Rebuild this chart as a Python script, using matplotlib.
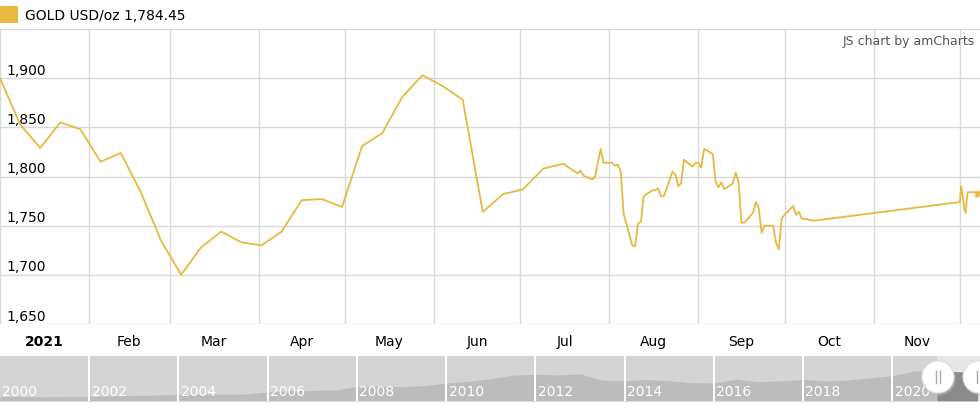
"""Gold price chart (amCharts stock style) recreated with matplotlib."""

import numpy as np
import pandas as pd
import matplotlib
matplotlib.use("Agg")
import matplotlib.pyplot as plt
from matplotlib.patches import Rectangle, Circle
from matplotlib.transforms import IdentityTransform

# ---- main series -----------------------------------------------------------
dates = [
    '2021-01-01', '2021-01-08', '2021-01-15', '2021-01-22', '2021-01-29',
    '2021-02-05', '2021-02-12', '2021-02-19', '2021-02-26', '2021-03-05',
    '2021-03-12', '2021-03-19', '2021-03-26', '2021-04-02', '2021-04-09',
    '2021-04-16', '2021-04-23', '2021-04-30', '2021-05-07', '2021-05-14',
    '2021-05-21', '2021-05-28', '2021-06-04', '2021-06-11', '2021-06-18',
    '2021-06-25', '2021-07-02', '2021-07-09', '2021-07-16', '2021-07-21',
    '2021-07-22', '2021-07-23', '2021-07-26', '2021-07-27', '2021-07-29',
    '2021-07-30', '2021-08-02', '2021-08-03', '2021-08-04', '2021-08-05',
    '2021-08-06', '2021-08-09', '2021-08-10', '2021-08-11', '2021-08-12',
    '2021-08-13', '2021-08-16', '2021-08-17', '2021-08-18', '2021-08-19',
    '2021-08-20', '2021-08-23', '2021-08-24', '2021-08-25', '2021-08-26',
    '2021-08-27', '2021-08-30', '2021-08-31', '2021-09-01', '2021-09-02',
    '2021-09-03', '2021-09-06', '2021-09-07', '2021-09-08', '2021-09-09',
    '2021-09-10', '2021-09-13', '2021-09-14', '2021-09-15', '2021-09-16',
    '2021-09-17', '2021-09-20', '2021-09-21', '2021-09-22', '2021-09-23',
    '2021-09-24', '2021-09-27', '2021-09-28', '2021-09-29', '2021-09-30',
    '2021-10-01', '2021-10-04', '2021-10-05', '2021-10-06', '2021-10-07',
    '2021-10-08', '2021-10-11',
    '2021-12-01 00:00', '2021-12-01 10:00', '2021-12-01 19:00',
    '2021-12-02 05:00', '2021-12-02 12:00', '2021-12-03 00:00',
    '2021-12-03 10:00', '2021-12-03 17:00', '2021-12-06 14:00',
    '2021-12-06 19:00', '2021-12-07 05:00', '2021-12-07 14:00',
    '2021-12-07 23:00',
]
prices = [
    1900, 1853, 1829, 1855, 1848,
    1815, 1824, 1784, 1735, 1700,
    1728, 1744, 1733, 1730, 1744,
    1776, 1777, 1769, 1831, 1844,
    1881, 1903, 1892, 1878, 1764,
    1782, 1787, 1808, 1813, 1803,
    1806, 1801, 1797, 1799, 1828,
    1814, 1814, 1811, 1812, 1805,
    1762, 1730, 1729, 1752, 1754,
    1780, 1786, 1786, 1788, 1780,
    1780, 1805, 1802, 1790, 1793,
    1817, 1810, 1814, 1814, 1809,
    1828, 1823, 1795, 1789, 1794,
    1787, 1793, 1804, 1794, 1753,
    1753, 1763, 1774, 1768, 1743,
    1750, 1750, 1733, 1726, 1757,
    1761, 1770, 1761, 1764, 1757,
    1757, 1755,
    1774, 1790, 1784,
    1775, 1767, 1763,
    1777, 1784, 1784,
    1779, 1785, 1780,
    1784.45,
]

y_ticks = [1650, 1700, 1750, 1800, 1850, 1900]
month_labels = ['2021', 'Feb', 'Mar', 'Apr', 'May', 'Jun',
                'Jul', 'Aug', 'Sep', 'Oct', 'Nov', 'Dec']

# ---- navigator (long history) ---------------------------------------------
nav_dates = [
    '2000-01', '2000-07', '2001-01', '2001-07', '2002-01', '2002-07',
    '2003-01', '2003-07', '2004-01', '2004-07', '2005-01', '2005-07',
    '2006-01', '2006-07', '2007-01', '2007-07', '2008-01', '2008-07',
    '2009-01', '2009-07', '2010-01', '2010-07', '2011-01', '2011-07',
    '2012-01', '2012-07', '2013-01', '2013-07', '2014-01', '2014-07',
    '2015-01', '2015-07', '2016-01', '2016-07', '2017-01', '2017-07',
    '2018-01', '2018-07', '2019-01', '2019-07', '2020-01', '2020-07',
    '2021-01', '2021-07', '2021-12',
]
nav_prices = [
    285, 275, 265, 270, 290, 315,
    350, 360, 410, 400, 425, 430,
    560, 630, 650, 670, 900, 930,
    870, 940, 1110, 1210, 1370, 1590,
    1650, 1600, 1670, 1290, 1250, 1320,
    1250, 1130, 1110, 1340, 1190, 1240,
    1330, 1240, 1290, 1420, 1560, 1850,
    1880, 1800, 1785,
]
nav_label_years = list(range(2000, 2021, 2))

GOLD = '#E9B840'
GRID = '#d9d9d9'

fig = plt.figure(figsize=(9.8, 4.1), dpi=100)
font = 'DejaVu Sans'

# main plot area: x 0..980, y 30..325 px
ax = fig.add_axes([0, 85 / 410, 1, 295 / 410])
x = pd.to_datetime(dates, format='mixed')
ax.plot(x, prices, color=GOLD, lw=1.3, zorder=3)

x0 = pd.Timestamp('2021-01-01')
x1 = pd.Timestamp('2021-12-08')
ax.set_xlim(x0, x1)
ax.set_ylim(1650, 1950)

for v in y_ticks + [1950]:
    ax.axhline(v, color=GRID, lw=1, zorder=1)
month_starts = pd.date_range('2021-01-01', '2021-12-01', freq='MS')
for m in month_starts:
    ax.axvline(m, color=GRID, lw=1, zorder=1)

for v in y_ticks:
    ax.text(6 / 980, v + 1.5, f"{v:,}", transform=ax.get_yaxis_transform(),
            ha='left', va='bottom', fontsize=10, color='#000000', family=font)

for i, (m, lab) in enumerate(zip(month_starts, month_labels)):
    nxt = m + pd.offsets.MonthBegin(1)
    mid = m + (nxt - m) / 2
    if mid > x1:
        continue
    ax.text(mid, -17 / 295, lab, transform=ax.get_xaxis_transform(),
            ha='center', va='center', fontsize=10, family=font,
            fontweight='bold' if i == 0 else 'normal', color='#000000')

ax.text(975 / 980, 1 - 12 / 295, "JS chart by amCharts", transform=ax.transAxes,
        ha='right', va='center', fontsize=9, color='#555555', family=font)

ax.set_xticks([])
ax.set_yticks([])
for s in ax.spines.values():
    s.set_visible(False)

# legend
fig.add_artist(Rectangle((0, (410 - 24) / 410), 18 / 980, 17 / 410,
                         transform=fig.transFigure, color=GOLD, lw=0))
fig.text(25 / 980, (410 - 16) / 410, "GOLD USD/oz 1,784.45", ha='left',
         va='center', fontsize=10, family=font, color='#000000')

# navigator: x 0..980, y 357..402 px
nav = fig.add_axes([0, 8 / 410, 1, 45 / 410])
nx = pd.to_datetime(nav_dates)
n0 = pd.Timestamp('2000-01-01')
n1 = pd.Timestamp('2021-12-20')
sel_start = pd.Timestamp('2021-01-01')
nav.set_xlim(n0, n1)
nav.set_ylim(0, 2770)
nav.set_facecolor('#d4d4d4')
nav.axvspan(sel_start, n1, color='#e6e6e6', lw=0, zorder=0)
nav.fill_between(nx, nav_prices, 0, where=nx <= sel_start,
                 color='#bcbcbc', lw=0, zorder=1)
nav.fill_between(nx, nav_prices, 0, where=nx >= sel_start,
                 color='#8a8a8a', lw=0, zorder=1)
for yr in nav_label_years:
    t = pd.Timestamp(f'{yr}-01-01')
    if yr > 2000:
        nav.axvline(t, color='white', lw=1.5, zorder=4)
    nav.text(t + pd.Timedelta(days=20), 0.22, str(yr), transform=nav.get_xaxis_transform(),
             ha='left', va='center', fontsize=10, color='white', family=font, zorder=5)
nav.set_xticks([])
nav.set_yticks([])
for s in nav.spines.values():
    s.set_visible(False)

# scrollbar grips
for cx in (938, 979):
    fig.add_artist(Circle((cx + 1, 410 - 380), 16.5, transform=IdentityTransform(),
                          facecolor='#bbbbbb', edgecolor='none', alpha=0.5, zorder=10))
    fig.add_artist(Circle((cx, 410 - 378), 16, transform=IdentityTransform(),
                          facecolor='white', edgecolor='#e0e0e0', lw=0.8, zorder=11))
    for dx in (-2, 2):
        fig.add_artist(plt.Line2D([cx + dx, cx + dx], [410 - 384, 410 - 372],
                                  transform=IdentityTransform(), color='#aaaaaa',
                                  lw=1, zorder=12))

fig.savefig('out.png', dpi=100)
